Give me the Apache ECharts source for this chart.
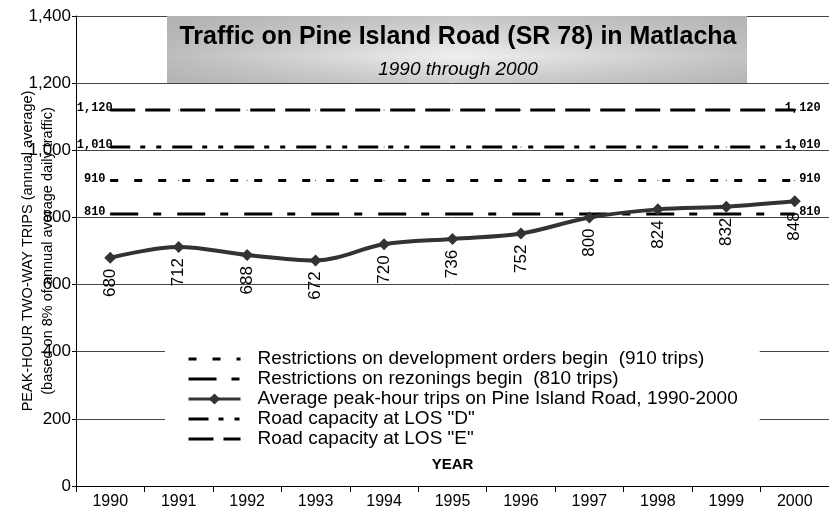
<!DOCTYPE html>
<html>
<head>
<meta charset="utf-8">
<script src="https://cdn.jsdelivr.net/npm/echarts@6/dist/echarts.min.js"></script>
<style>
  html, body { margin: 0; padding: 0; background: #fff; }
  #main { width: 829px; height: 517px; }
</style>
</head>
<body>
<div id="main"></div>
<script>
// years on the x axis
const years = ['1990', '1991', '1992', '1993', '1994', '1995', '1996', '1997', '1998', '1999', '2000'];
// average peak-hour trips
const avgTrips = [680, 712, 688, 672, 720, 736, 752, 800, 824, 832, 848];
// threshold lines (same value each year)
const devOrders = [910, 910, 910, 910, 910, 910, 910, 910, 910, 910, 910];
const rezonings = [810, 810, 810, 810, 810, 810, 810, 810, 810, 810, 810];
const losD = [1010, 1010, 1010, 1010, 1010, 1010, 1010, 1010, 1010, 1010, 1010];
const losE = [1120, 1120, 1120, 1120, 1120, 1120, 1120, 1120, 1120, 1120, 1120];
const yTicks = [0, 200, 400, 600, 800, 1000, 1200, 1400];

const fmt = v => Number(v).toLocaleString('en-US');
const font = 'Liberation Sans, Arial, sans-serif';
const mono = 'Liberation Mono, Courier New, monospace';

// horizontal threshold line, value shown at both ends
function refLine(name, data, dash) {
    return {
        name: name,
        type: 'line',
        data: data,
        symbol: 'circle',
        symbolSize: 1,
        itemStyle: { color: '#000' },
        lineStyle: { color: '#000', width: 3, type: dash },
        label: {
            show: true,
            position: 'left',
            distance: 0,
            align: 'center',
            offset: [-15, -2],
            fontFamily: mono,
            fontSize: 12,
            fontWeight: 'bold',
            color: '#000',
            formatter: p => p.dataIndex === 0 ? fmt(p.value) : ''
        },
        endLabel: {
            show: true,
            distance: 26,
            align: 'right',
            offset: [0, -2],
            fontFamily: mono,
            fontSize: 12,
            fontWeight: 'bold',
            color: '#000',
            formatter: p => fmt(p.value)
        },
        z: 3
    };
}

let myChart = echarts.init(document.getElementById('main'));

myChart.setOption({
    animation: false,
    backgroundColor: '#fff',
    textStyle: { fontFamily: font },
    grid: { left: 76, right: 0, top: 16, bottom: 31, containLabel: false, outerBoundsMode: 'none' },
    graphic: [{
        type: 'rect',
        shape: { x: 167, y: 16, width: 580, height: 67 },
        style: {
            fill: {
                type: 'linear', x: 0, y: 0, x2: 1, y2: 0,
                colorStops: [
                    { offset: 0, color: '#bcbcbc' },
                    { offset: 0.5, color: '#f0f0f0' },
                    { offset: 1, color: '#c2c2c2' }
                ]
            }
        },
        z: 1
    }, {
        type: 'rect',
        shape: { x: 167, y: 16, width: 580, height: 67 },
        style: {
            fill: {
                type: 'linear', x: 0, y: 0, x2: 0, y2: 1,
                colorStops: [
                    { offset: 0, color: 'rgba(170,170,170,0.6)' },
                    { offset: 0.6, color: 'rgba(170,170,170,0)' },
                    { offset: 1, color: 'rgba(170,170,170,0.5)' }
                ]
            }
        },
        z: 1
    }],
    title: {
        text: 'Traffic on Pine Island Road (SR 78) in Matlacha',
        subtext: '1990 through 2000',
        left: 458,
        textAlign: 'center',
        top: 25,
        itemGap: 10,
        padding: 0,
        textStyle: { fontFamily: font, fontSize: 25, fontWeight: 'bold', color: '#000' },
        subtextStyle: { fontFamily: font, fontSize: 19, fontStyle: 'italic', color: '#000' },
        z: 6
    },
    legend: {
        orient: 'vertical',
        left: 165,
        top: 340,
        padding: [9, 22, 4, 22],
        backgroundColor: '#fff',
        itemWidth: 52,
        itemHeight: 14,
        itemGap: 0,
        textStyle: { fontFamily: font, fontSize: 19, lineHeight: 20, color: '#000', padding: [0, 0, 0, 12] },
        lineStyle: { width: 3 },
        data: [
            { name: 'Restrictions on development orders begin  (910 trips)', itemStyle: { opacity: 0 } },
            { name: 'Restrictions on rezonings begin  (810 trips)', itemStyle: { opacity: 0 } },
            { name: 'Average peak-hour trips on Pine Island Road, 1990-2000' },
            { name: 'Road capacity at LOS "D"', itemStyle: { opacity: 0 } },
            { name: 'Road capacity at LOS "E"', itemStyle: { opacity: 0 } }
        ],
        z: 5
    },
    xAxis: {
        type: 'category',
        data: years,
        boundaryGap: true,
        name: 'YEAR',
        nameLocation: 'middle',
        nameGap: -29,
        nameMoveOverlap: false,
        nameTextStyle: { fontFamily: font, fontSize: 15, fontWeight: 'bold', color: '#000' },
        axisLine: { lineStyle: { color: '#000', width: 1 } },
        axisTick: { show: true, length: 6, lineStyle: { color: '#000' } },
        axisLabel: { fontFamily: font, fontSize: 16, color: '#000', margin: 8 }
    },
    yAxis: {
        type: 'value',
        min: yTicks[0],
        max: yTicks[yTicks.length - 1],
        interval: 200,
        name: 'PEAK-HOUR TWO-WAY TRIPS (annual average)\n(based on 8% of annual average daily traffic)',
        nameLocation: 'middle',
        nameRotate: 90,
        nameGap: 18,
        nameMoveOverlap: false,
        nameTextStyle: { fontFamily: font, fontSize: 14.5, lineHeight: 20, color: '#000' },
        axisLine: { show: true, lineStyle: { color: '#000', width: 1 } },
        axisTick: { show: true, length: 4, lineStyle: { color: '#000' } },
        axisLabel: { fontFamily: font, fontSize: 17, color: '#000', margin: 5, formatter: v => fmt(v) },
        splitLine: { show: true, lineStyle: { color: '#444', width: 1 } }
    },
    series: [
        refLine('Restrictions on development orders begin  (910 trips)', devOrders, [8, 16]),
        refLine('Restrictions on rezonings begin  (810 trips)', rezonings, [28, 15, 8, 16]),
        {
            name: 'Average peak-hour trips on Pine Island Road, 1990-2000',
            type: 'line',
            data: avgTrips,
            smooth: 0.35,
            symbol: 'diamond',
            symbolSize: 12,
            itemStyle: { color: '#333' },
            lineStyle: { color: '#333', width: 4 },
            label: {
                show: true,
                position: 'bottom',
                distance: 5,
                rotate: 90,
                align: 'right',
                verticalAlign: 'middle',
                fontFamily: font,
                fontSize: 17,
                color: '#000'
            },
            z: 4
        },
        refLine('Road capacity at LOS "D"', losD, [20, 10, 5, 11, 5, 11]),
        refLine('Road capacity at LOS "E"', losE, [25, 10])
    ]
});

window.onresize = function () {
    myChart.resize();
};
</script>
</body>
</html>
